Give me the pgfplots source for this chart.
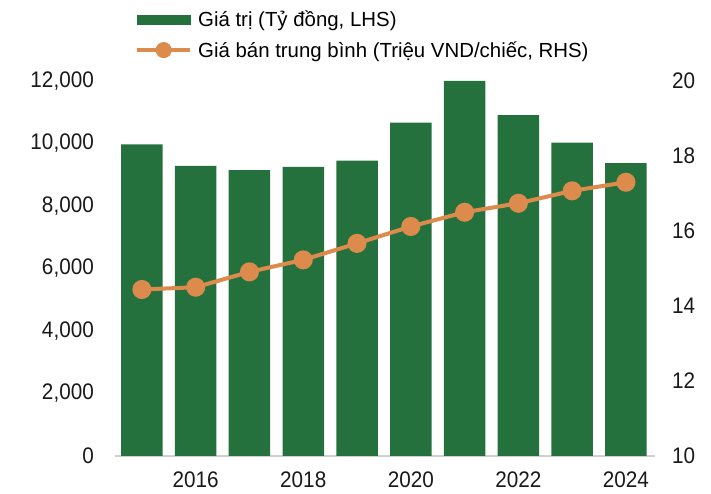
\documentclass[border=0pt]{standalone}
\usepackage{fontspec}
\setmainfont{Liberation Sans}
\newfontfamily\tickfont[FakeStretch=0.92]{Liberation Sans}
\usepackage{pgfplots}
\pgfplotsset{compat=1.18}
\definecolor{barg}{RGB}{36,113,61}
\definecolor{lineo}{RGB}{220,139,76}
\begin{document}
\begin{tikzpicture}
\path[use as bounding box] (-115pt,-38pt) rectangle (596pt,456pt);
\begin{axis}[
  at={(0pt,0pt)}, anchor=south west,
  scale only axis, width=540pt, height=375pt,
  xmin=2014.5, xmax=2024.54, ymin=0, ymax=12000,
  axis y line*=left, axis x line*=bottom,
  y axis line style={draw=none},
  x axis line style={draw=black!18, line width=1.5pt, -},
  ytick={0,2000,...,12000},
  xtick={2016,2018,2020,2022,2024},
  major tick length=0pt,
  scaled y ticks=false,
  /pgf/number format/assume math mode=true,
  yticklabel style={/pgf/number format/1000 sep={,}},
  xticklabel style={/pgf/number format/1000 sep={}},
  tick label style={font=\tickfont\fontsize{22.5}{26}\selectfont, inner sep=0pt, text=black!90},
  yticklabel shift=21pt,
  xticklabel shift=16pt,
  clip=false,
]
\addplot[ybar, bar width=41.5pt, fill=barg, draw=none] coordinates {
  (2015,9970) (2016,9280) (2017,9150) (2018,9250) (2019,9450)
  (2020,10665) (2021,12000) (2022,10910) (2023,10025) (2024,9375)
};
\end{axis}
\begin{axis}[
  at={(0pt,0pt)}, anchor=south west,
  scale only axis, width=540pt, height=375pt,
  xmin=2014.5, xmax=2024.54, ymin=10, ymax=20,
  axis y line*=right, axis x line=none,
  y axis line style={draw=none},
  ytick={10,12,...,20},
  major tick length=0pt,
  /pgf/number format/assume math mode=true,
  tick label style={font=\tickfont\fontsize{22.5}{26}\selectfont, inner sep=0pt, text=black!90},
  yticklabel shift=17pt,
  clip=false,
  legend style={at={(0.037,1.189)}, anchor=north west, draw=none, fill=none,
    font=\fontsize{20.4}{24}\selectfont, row sep=11pt, column sep=0pt,
    nodes={inner sep=1pt}, inner sep=0pt},
  legend cell align=left,
]
\addlegendimage{legend image code/.code={\fill[barg] (0pt,-4.5pt) rectangle (53pt,4.5pt);}}
\addlegendentry{\hspace{5pt}Giá trị (Tỷ đồng, LHS)}
\addplot[lineo, line width=4pt, mark=*, mark size=7.5pt, mark options={fill=lineo, draw=none},
  legend image code/.code={\draw[lineo,line width=4pt] (0pt,0pt)--(53pt,0pt); \fill[lineo] (26.5pt,0pt) circle (6pt);}]
  coordinates {
  (2015,14.44) (2016,14.50) (2017,14.91) (2018,15.23) (2019,15.67)
  (2020,16.12) (2021,16.50) (2022,16.74) (2023,17.07) (2024,17.30)
};
\addlegendentry{\hspace{5pt}Giá bán trung bình (Triệu VND/chiếc, RHS)}
\end{axis}
\end{tikzpicture}
\end{document}
